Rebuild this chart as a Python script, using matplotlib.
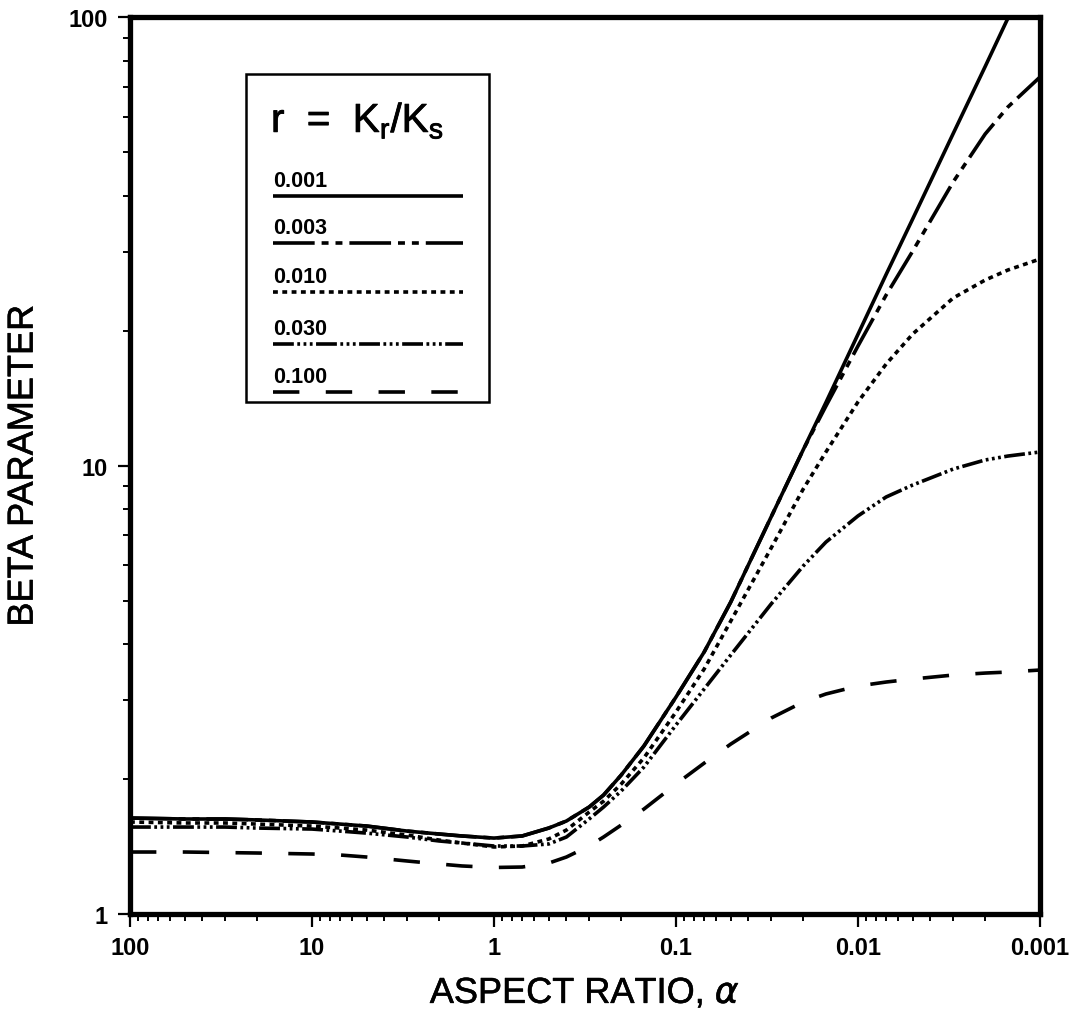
import numpy as np
import matplotlib
matplotlib.use("Agg")
import matplotlib.pyplot as plt
import matplotlib.patheffects as pe
from matplotlib.ticker import FixedLocator, FixedFormatter, LogLocator, NullFormatter
from matplotlib.patches import Rectangle

plt.rcParams['font.family'] = ['Liberation Sans', 'DejaVu Sans']
plt.rcParams['lines.scale_dashes'] = False

# aspect ratio values (x)
alpha = [100, 50, 30, 20, 10, 7, 5, 3, 2, 1.5, 1, 0.7, 0.5, 0.4, 0.3, 0.25, 0.2,
         0.15, 0.1, 0.07, 0.05, 0.03, 0.02, 0.015, 0.01, 0.007, 0.005, 0.003,
         0.002, 0.0015, 0.001]

beta_0001 = [1.637, 1.629, 1.629, 1.621, 1.604, 1.587, 1.571, 1.531, 1.508, 1.493,
             1.477, 1.493, 1.555, 1.612, 1.732, 1.842, 2.041, 2.370, 3.046, 3.839,
             4.962, 7.68, 10.84, 13.82, 19.61, 26.68, 35.49, 54.94, 77.56, 99.4,
             140.4]
beta_0003 = [1.637, 1.629, 1.629, 1.621, 1.604, 1.587, 1.571, 1.531, 1.508, 1.493,
             1.477, 1.493, 1.555, 1.612, 1.732, 1.842, 2.041, 2.370, 3.046, 3.839,
             4.962, 7.68, 10.84, 13.57, 18.47, 24.00, 30.08, 42.87, 54.85, 63.02,
             73.48]
beta_0010 = [1.604, 1.596, 1.596, 1.587, 1.571, 1.555, 1.539, 1.500, 1.462, 1.440,
             1.411, 1.418, 1.470, 1.539, 1.688, 1.785, 1.949, 2.229, 2.821, 3.518,
             4.500, 6.546, 8.86, 10.72, 13.86, 16.84, 19.65, 23.63, 25.92, 27.29,
             28.87]
beta_0030 = [1.563, 1.563, 1.563, 1.555, 1.547, 1.531, 1.515, 1.485, 1.455, 1.440,
             1.418, 1.418, 1.433, 1.485, 1.629, 1.732, 1.881, 2.127, 2.639, 3.175,
             3.780, 4.912, 5.97, 6.75, 7.72, 8.51, 9.05, 9.82, 10.29, 10.50, 10.72]
beta_0100 = [1.375, 1.375, 1.371, 1.368, 1.361, 1.354, 1.340, 1.313, 1.293, 1.280,
             1.270, 1.273, 1.299, 1.340, 1.418, 1.485, 1.579, 1.714, 1.949, 2.170,
             2.393, 2.735, 2.970, 3.095, 3.224, 3.291, 3.342, 3.411, 3.446, 3.464,
             3.500]

r_labels = ["0.001", "0.003", "0.010", "0.030", "0.100"]
series = [beta_0001, beta_0003, beta_0010, beta_0030, beta_0100]
styles = [
    dict(ls='-'),
    dict(dashes=(30, 5, 5, 5, 5, 5)),
    dict(dashes=(3.5, 3.2)),
    dict(dashes=(15, 2.5, 2, 2.5, 2, 2.5, 2, 2.5)),
    dict(dashes=(19, 19)),
]

fig = plt.figure(figsize=(10.76, 10.2), dpi=100)
ax = fig.add_axes([0.1208, 0.1029, 0.8457, 0.8794])

for b, st in zip(series, styles):
    ax.plot(alpha, b, color='black', lw=2.6, solid_capstyle='butt',
            dash_capstyle='butt', **st)

ax.set_xscale('log')
ax.set_yscale('log')
ax.set_xlim(100, 0.001)
ax.set_ylim(1, 100)

xt = [100, 10, 1, 0.1, 0.01, 0.001]
ax.xaxis.set_major_locator(FixedLocator(xt))
ax.xaxis.set_major_formatter(FixedFormatter(["100", "10", "1", "0.1", "0.01", "0.001"]))
ax.xaxis.set_minor_locator(LogLocator(base=10, subs=np.arange(2, 10)))
ax.xaxis.set_minor_formatter(NullFormatter())
yt = [1, 10, 100]
ax.yaxis.set_major_locator(FixedLocator(yt))
ax.yaxis.set_major_formatter(FixedFormatter(["1", "10", "100"]))
ax.yaxis.set_minor_locator(LogLocator(base=10, subs=np.arange(2, 10)))
ax.yaxis.set_minor_formatter(NullFormatter())

ax.tick_params(which='major', direction='out', length=9, width=1.6,
               labelsize=17, pad=7)
ax.tick_params(which='minor', direction='out', length=5, width=1.4)
for lab in ax.get_xticklabels() + ax.get_yticklabels():
    lab.set_fontweight('bold')

for sp in ax.spines.values():
    sp.set_linewidth(3.8)

thick = [pe.withStroke(linewidth=0.4, foreground='black')]
ax.set_xlabel(r"ASPECT RATIO, $\alpha$", fontsize=26, labelpad=12,
              path_effects=thick)
ax.set_ylabel("BETA PARAMETER", fontsize=26, labelpad=20, path_effects=thick)

# legend box drawn in axes coordinates
ax.add_patch(Rectangle((0.1275, 0.5708), 0.267, 0.3657, transform=ax.transAxes,
                       fill=True, facecolor='white', edgecolor='black', lw=1.8,
                       zorder=5))
ax.text(0.155, 0.8718, r"r  =  K$_\mathregular{r}$/K$_\mathregular{s}$",
        transform=ax.transAxes, fontsize=29, ha='left', va='baseline', zorder=6,
        path_effects=[pe.withStroke(linewidth=0.6, foreground='black')])
line_y = [197, 244, 293, 345, 393]
for lab, st, py in zip(r_labels, styles, line_y):
    yf = (915 - py) / 897
    ax.plot([0.157, 0.366], [yf, yf], transform=ax.transAxes, color='black',
            lw=2.6, solid_capstyle='butt', dash_capstyle='butt', zorder=6, **st)
    ax.text(0.157, yf + 10 / 897, lab, transform=ax.transAxes, fontsize=15.5,
            fontweight='bold', ha='left', va='baseline', zorder=6)

fig.savefig("out.png", dpi=100)
